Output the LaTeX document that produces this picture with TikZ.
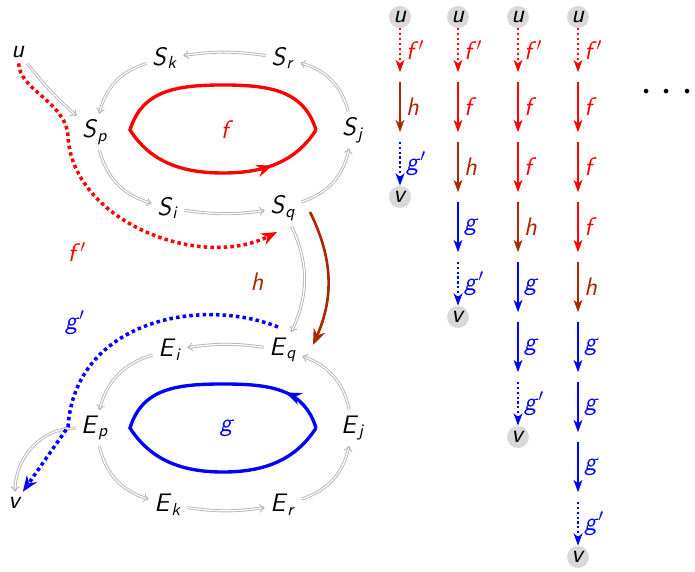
\documentclass[tikz,border=0pt]{standalone}
\usepackage{tikz}
\usetikzlibrary{arrows.meta,decorations.markings}
\definecolor{HBrown}{RGB}{170,40,0}
\definecolor{SoftGray}{RGB}{180,180,180}
\newcommand{\sv}[1]{\textsf{\textsl{#1}}}
\newcommand{\svs}[2]{\sv{#1}\textsubscript{\sv{#2}}}
\newcommand{\svp}[1]{\sv{#1}$'$}
\begin{document}
\begin{tikzpicture}[x=0.02cm,y=0.02cm]
		\tikzstyle{vert}=[font=\Large, inner sep=3pt]
		\tikzstyle{ball}=[circle, fill=gray!30, font=\Large, inner sep=0pt, minimum size=12.5pt]
		\tikzstyle{hop}=[inner sep=2.5pt, minimum size=0pt]
		\tikzstyle{lbl}=[right, font=\Large, inner sep=3pt]
		\tikzstyle{gedge}=[draw=SoftGray, double=white, double distance=0.7pt, line width=0.5pt, -{To[length=3pt,width=5pt]}]
		\tikzstyle{farr}=[red, line width=1.1pt, -{Stealth[length=7pt,width=5pt,inset=2pt]}]
		\tikzstyle{harr}=[farr, HBrown]
		\tikzstyle{garr}=[farr, blue]
		\tikzstyle{fdot}=[farr, dash pattern=on 1.2pt off 1.6pt]
		\tikzstyle{gdot}=[garr, dash pattern=on 1.2pt off 1.6pt]
		\tikzstyle{bigdot}=[line width=2pt, dash pattern=on 2pt off 1.8pt, -{Stealth[length=9pt,width=7pt]}]
		\tikzstyle{lens}=[line width=1.9pt, postaction={decorate}]
		\useasboundingbox (0,0) rectangle (695,571);
		\node [vert] (u) at (18,519) {\sv{u}};
		\node [vert] (Sk) at (165,513) {\svs{S}{k}};
		\node [vert] (Sr) at (283,513) {\svs{S}{r}};
		\node [vert] (Sp) at (95,439) {\svs{S}{p}};
		\node [vert] (Sj) at (353,441) {\svs{S}{j}};
		\node [vert] (Si) at (168,363) {\svs{S}{i}};
		\node [vert] (Sq) at (283,363) {\svs{S}{q}};
		\node [vert] (Eq) at (283,221) {\svs{E}{q}};
		\node [vert] (Ei) at (170,221) {\svs{E}{i}};
		\node [vert] (Ep) at (95,143) {\svs{E}{p}};
		\node [vert] (Ej) at (353,143) {\svs{E}{j}};
		\node [vert] (Ek) at (168,66) {\svs{E}{k}};
		\node [vert] (Er) at (283,66) {\svs{E}{r}};
		\node [vert] (v) at (15,68) {\sv{v}};
		\node [vert, red] (fl) at (227,441) {\sv{f}};
		\node [vert, blue] (gl) at (227,143) {\sv{g}};
		\node [vert, red] (fpl) at (77,319) {\svp{f}};
		\node [vert, HBrown] (hl) at (257,289) {\sv{h}};
		\node [vert, blue] (gpl) at (75,248) {\svp{g}};
		\coordinate (fe) at (277,339);
		\coordinate (gs) at (278,244);
		\coordinate (hs) at (310,359);
		\coordinate (he) at (313,226);
		\draw[gedge] (u) to[bend right=5] (Sp);
		\draw[gedge] (Sr) to[bend right=8] (Sk);
		\draw[gedge] (Sk) to[bend right=30] (Sp);
		\draw[gedge] (Sp) to[bend right=30] (Si);
		\draw[gedge] (Si) to[bend right=8] (Sq);
		\draw[gedge] (Sq) to[bend right=30] (Sj);
		\draw[gedge] (Sj) to[bend right=30] (Sr);
		\draw[gedge] (Eq) to[bend right=8] (Ei);
		\draw[gedge] (Ei) to[bend right=30] (Ep);
		\draw[gedge] (Ep) to[bend right=30] (Ek);
		\draw[gedge] (Ek) to[bend right=8] (Er);
		\draw[gedge] (Er) to[bend right=30] (Ej);
		\draw[gedge] (Ej) to[bend right=30] (Eq);
		\draw[gedge] (Sq) to[bend left=25] (Eq);
		\draw[gedge] (Ep) to[out=180,in=90] (v);
		\draw[HBrown, line width=1.5pt, -{Stealth[length=9pt,width=7pt]}] (hs) to[bend left=25] (he);
		\draw[red, lens, decoration={markings, mark=at position 0.87 with {\arrow{Stealth[length=9pt,width=7pt]}}}] (316,441) .. controls (304,480) and (271,486) .. (223,486) .. controls (175,486) and (142,480) .. (130,441) .. controls (150,410) and (180,398) .. (223,398) .. controls (266,398) and (296,410) .. (316,441);
		\draw[blue, lens, decoration={markings, mark=at position 0.11 with {\arrow{Stealth[length=9pt,width=7pt]}}}] (316,143) .. controls (304,182) and (271,187) .. (223,187) .. controls (175,187) and (142,182) .. (130,143) .. controls (150,112) and (180,99) .. (223,99) .. controls (266,99) and (296,112) .. (316,143);
		\draw[red, bigdot] (u) .. controls (20,480) and (65,470) .. (68,435) .. controls (72,350) and (200,300) .. (fe);
		\draw[blue, bigdot] (gs) .. controls (200,275) and (75,250) .. (68,144) -- (v);
		\node [ball] (ua) at (400,554) {\sv{u}};
		\node [hop] (a1) at (400,494) {};
		\node [hop] (a2) at (400,434) {};
		\node [ball] (va) at (400,374) {\sv{v}};
		\node [ball] (ub) at (458,554) {\sv{u}};
		\node [hop] (b1) at (458,494) {};
		\node [hop] (b2) at (458,434) {};
		\node [hop] (b3) at (458,374) {};
		\node [hop] (b4) at (458,314) {};
		\node [ball] (vb) at (458,254) {\sv{v}};
		\node [ball] (uc) at (518,554) {\sv{u}};
		\node [hop] (c1) at (518,494) {};
		\node [hop] (c2) at (518,434) {};
		\node [hop] (c3) at (518,374) {};
		\node [hop] (c4) at (518,314) {};
		\node [hop] (c5) at (518,254) {};
		\node [hop] (c6) at (518,194) {};
		\node [ball] (vc) at (518,134) {\sv{v}};
		\node [ball] (ud) at (578,554) {\sv{u}};
		\node [hop] (d1) at (578,494) {};
		\node [hop] (d2) at (578,434) {};
		\node [hop] (d3) at (578,374) {};
		\node [hop] (d4) at (578,314) {};
		\node [hop] (d5) at (578,254) {};
		\node [hop] (d6) at (578,194) {};
		\node [hop] (d7) at (578,134) {};
		\node [hop] (d8) at (578,74) {};
		\node [ball] (vd) at (578,14) {\sv{v}};
		\node [font=\Huge] (dots) at (667,478) {$\cdot$\hspace{5pt}$\cdot$\hspace{5pt}$\cdot$};
		\draw[fdot] (ua) -- node[lbl, red] {\svp{f}} (a1);
		\draw[harr] (a1) -- node[lbl, HBrown] {\sv{h}} (a2);
		\draw[gdot] (a2) -- node[lbl, blue] {\svp{g}} (va);
		\draw[fdot] (ub) -- node[lbl, red] {\svp{f}} (b1);
		\draw[farr] (b1) -- node[lbl, red] {\sv{f}} (b2);
		\draw[harr] (b2) -- node[lbl, HBrown] {\sv{h}} (b3);
		\draw[garr] (b3) -- node[lbl, blue] {\sv{g}} (b4);
		\draw[gdot] (b4) -- node[lbl, blue] {\svp{g}} (vb);
		\draw[fdot] (uc) -- node[lbl, red] {\svp{f}} (c1);
		\draw[farr] (c1) -- node[lbl, red] {\sv{f}} (c2);
		\draw[farr] (c2) -- node[lbl, red] {\sv{f}} (c3);
		\draw[harr] (c3) -- node[lbl, HBrown] {\sv{h}} (c4);
		\draw[garr] (c4) -- node[lbl, blue] {\sv{g}} (c5);
		\draw[garr] (c5) -- node[lbl, blue] {\sv{g}} (c6);
		\draw[gdot] (c6) -- node[lbl, blue] {\svp{g}} (vc);
		\draw[fdot] (ud) -- node[lbl, red] {\svp{f}} (d1);
		\draw[farr] (d1) -- node[lbl, red] {\sv{f}} (d2);
		\draw[farr] (d2) -- node[lbl, red] {\sv{f}} (d3);
		\draw[farr] (d3) -- node[lbl, red] {\sv{f}} (d4);
		\draw[harr] (d4) -- node[lbl, HBrown] {\sv{h}} (d5);
		\draw[garr] (d5) -- node[lbl, blue] {\sv{g}} (d6);
		\draw[garr] (d6) -- node[lbl, blue] {\sv{g}} (d7);
		\draw[garr] (d7) -- node[lbl, blue] {\sv{g}} (d8);
		\draw[gdot] (d8) -- node[lbl, blue] {\svp{g}} (vd);
	\end{tikzpicture}
\end{document}
